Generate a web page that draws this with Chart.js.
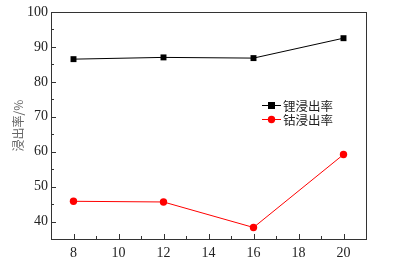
<!DOCTYPE html>
<html>
<head>
<meta charset="utf-8">
<script src="https://cdn.jsdelivr.net/npm/chart.js@4"></script>
<style>
  html, body { margin: 0; padding: 0; background: #fff; }
  #wrap { width: 393px; height: 262px; }
</style>
</head>
<body>
<div id="wrap"><canvas id="chart" width="393" height="262"></canvas></div>
<script>
const xValues = [8, 12, 16, 20]
const liRate = [86.5, 87.0, 86.8, 92.5]
const coRate = [45.8, 45.6, 38.3, 59.2]
const xTicks = [8, 10, 12, 14, 16, 18, 20]
const yTicks = [40, 50, 60, 70, 80, 90, 100]
const xMinor = [9, 11, 13, 15, 17, 19]
const yMinor = [45, 55, 65, 75, 85, 95]

const serif = "'Liberation Serif', 'DejaVu Serif', serif"
const cjk = "'Noto Sans CJK SC', sans-serif"

// inward ticks, frame box and legend inside the plot
const framePlugin = {
    id: 'frame',
    afterDraw(chart) {
        const c = chart.ctx
        const a = chart.chartArea
        const xs = chart.scales.x
        const ys = chart.scales.y
        c.save()
        c.strokeStyle = '#333'
        c.lineWidth = 1
        c.strokeRect(Math.round(a.left) + 0.5, Math.round(a.top) + 0.5, Math.round(a.right - a.left), Math.round(a.bottom - a.top))
        c.beginPath()
        xTicks.forEach(v => {
            const px = Math.round(xs.getPixelForValue(v)) + 0.5
            c.moveTo(px, a.bottom); c.lineTo(px, a.bottom - 5)
        })
        xMinor.forEach(v => {
            const px = Math.round(xs.getPixelForValue(v)) + 0.5
            c.moveTo(px, a.bottom); c.lineTo(px, a.bottom - 3)
        })
        yTicks.forEach(v => {
            const py = Math.round(ys.getPixelForValue(v)) + 0.5
            c.moveTo(a.left, py); c.lineTo(a.left + 5, py)
        })
        yMinor.forEach(v => {
            const py = Math.round(ys.getPixelForValue(v)) + 0.5
            c.moveTo(a.left, py); c.lineTo(a.left + 3, py)
        })
        c.stroke()

        // legend
        const lx = 262, ly = 105
        chart.data.datasets.forEach((ds, i) => {
            const y = ly + i * 14
            c.strokeStyle = ds.borderColor
            c.lineWidth = 1
            c.beginPath()
            c.moveTo(lx, y + 0.5); c.lineTo(lx + 19, y + 0.5)
            c.stroke()
            c.fillStyle = ds.pointBackgroundColor
            if (ds.pointStyle === 'rect') {
                c.fillRect(lx + 6, y - 3, 7, 7)
            } else {
                c.beginPath(); c.arc(lx + 9.5, y + 0.5, 3.7, 0, Math.PI * 2); c.fill()
            }
            c.fillStyle = '#222'
            c.font = '12.5px ' + cjk
            c.textBaseline = 'middle'
            c.fillText(ds.label, lx + 21, y + 1)
        })
        c.restore()
    }
}

new Chart(document.getElementById('chart').getContext('2d'), {
    type: 'scatter',
    data: {
        datasets: [{
            label: '锂浸出率',
            data: xValues.map((x, i) => ({ x: x, y: liRate[i] })),
            showLine: true,
            borderColor: '#000',
            backgroundColor: '#000',
            pointBackgroundColor: '#000',
            pointBorderWidth: 0,
            borderWidth: 1,
            pointStyle: 'rect',
            pointRadius: 4.2
        }, {
            label: '钴浸出率',
            data: xValues.map((x, i) => ({ x: x, y: coRate[i] })),
            showLine: true,
            borderColor: '#ff0000',
            backgroundColor: '#ff0000',
            pointBackgroundColor: '#ff0000',
            pointBorderWidth: 0,
            borderWidth: 1,
            pointStyle: 'circle',
            pointRadius: 3.7
        }]
    },
    plugins: [framePlugin],
    options: {
        responsive: false,
        animation: false,
        layout: { padding: { top: 12, right: 27, left: 0, bottom: 0 } },
        plugins: { legend: { display: false }, tooltip: { enabled: false } },
        scales: {
            x: {
                type: 'linear',
                min: 7,
                max: 21,
                afterBuildTicks: s => { s.ticks = xTicks.map(v => ({ value: v })) },
                afterFit: s => { s.height = 23 },
                grid: { display: false, drawTicks: false },
                border: { display: false },
                ticks: { color: '#222', padding: 6, font: { family: serif, size: 14 } }
            },
            y: {
                min: 35,
                max: 100,
                afterBuildTicks: s => { s.ticks = yTicks.map(v => ({ value: v })) },
                afterFit: s => { s.width = 51 },
                grid: { display: false, drawTicks: false },
                border: { display: false },
                ticks: { color: '#222', padding: 3, font: { family: serif, size: 14 } },
                title: {
                    display: true,
                    text: '浸出率/%',
                    color: '#666',
                    padding: { top: 11, bottom: 0 },
                    font: { family: cjk, size: 12 }
                }
            }
        }
    }
})
</script>
</body>
</html>
